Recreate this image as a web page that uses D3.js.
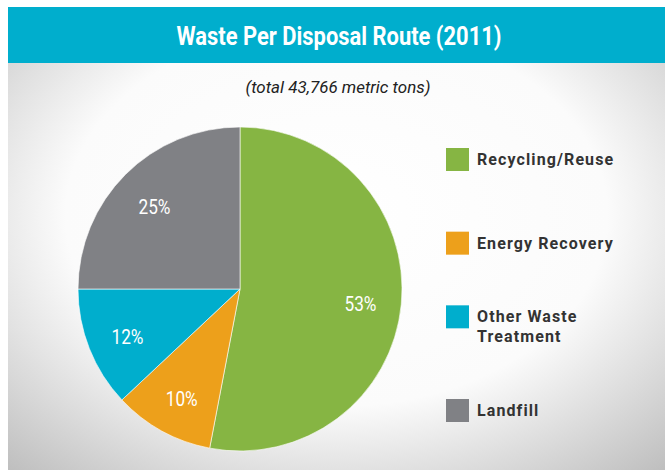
<!DOCTYPE html>
<html><head><meta charset="utf-8">
<script src="https://cdn.jsdelivr.net/npm/d3@7"></script>
<style>html,body{margin:0;padding:0;background:#fff;}svg{display:block;}</style>
</head><body>
<script>
const categories = ["Recycling/Reuse", "Energy Recovery", "Other Waste Treatment", "Landfill"];
const legendLines = [["Recycling/Reuse"], ["Energy Recovery"], ["Other Waste", "Treatment"], ["Landfill"]];
const values = [53, 10, 12, 25];
const colors = ["#86b543", "#eda01b", "#00aecd", "#808185"];
const title = "Waste Per Disposal Route (2011)";
const subtitle = "(total 43,766 metric tons)";

const W = 665, H = 470;
const svg = d3.select("body").append("svg").attr("width", W).attr("height", H);
const defs = svg.append("defs");
const grad = defs.append("radialGradient").attr("id", "bg")
  .attr("cx", "0.5").attr("cy", "0.45").attr("r", "0.75")
  .attr("gradientUnits", "objectBoundingBox");
grad.append("stop").attr("offset", "0").attr("stop-color", "#ffffff");
grad.append("stop").attr("offset", "0.55").attr("stop-color", "#fbfbfb");
grad.append("stop").attr("offset", "1").attr("stop-color", "#bdbdbd");

svg.append("rect").attr("x", 8).attr("y", 7).attr("width", W - 8).attr("height", H - 7).attr("fill", "url(#bg)");
svg.append("rect").attr("x", 8).attr("y", 7).attr("width", W - 8).attr("height", 56).attr("fill", "#00aecd");

function fitWidth(sel, w) {
  sel.attr("textLength", w).attr("lengthAdjust", "spacingAndGlyphs");
}
function fitText(sel, factor) {
  sel.each(function () {
    const w = this.getComputedTextLength();
    d3.select(this).attr("textLength", w * factor).attr("lengthAdjust", "spacingAndGlyphs");
  });
}

svg.append("text").attr("x", 339).attr("y", 45).attr("text-anchor", "middle")
  .attr("font-family", "Roboto, sans-serif").attr("font-weight", "bold").attr("font-size", 25)
  .attr("fill", "#fff").text(title).call(s => fitWidth(s, 325));

svg.append("text").attr("x", 338).attr("y", 93).attr("text-anchor", "middle")
  .attr("font-family", "Roboto, sans-serif").attr("font-style", "italic").attr("font-size", 16)
  .attr("fill", "#222").text(subtitle).call(s => fitWidth(s, 185));

const cx = 240, cy = 289, r = 162;
const pie = d3.pie().sort(null).value(d => d);
const arcs = pie(values);
const arc = d3.arc().innerRadius(0).outerRadius(r);
const labelArc = d3.arc().innerRadius(121).outerRadius(121);
const g = svg.append("g").attr("transform", `translate(${cx},${cy})`);
g.selectAll("path").data(arcs).join("path")
  .attr("d", arc).attr("fill", (d, i) => colors[i])
  .attr("stroke", "#fff").attr("stroke-width", 0.6);
g.selectAll("text.lbl").data(arcs).join("text").attr("class", "lbl")
  .attr("transform", d => `translate(${labelArc.centroid(d)})`)
  .attr("text-anchor", "middle").attr("dy", "0.5em")
  .attr("font-family", "Roboto, sans-serif").attr("font-size", 21)
  .attr("fill", "#fff").text(d => d.value + "%").call(s => fitText(s, 0.82));

const ly = d3.scalePoint().domain(categories).range([159.5, 410.5]);
const leg = svg.append("g");
categories.forEach((c, i) => {
  const lines = legendLines[i];
  const first = ly(c) - (lines.length - 1) * 10;
  leg.append("rect").attr("x", 446).attr("y", first - 11.5).attr("width", 23).attr("height", 23).attr("fill", colors[i]);
  const t = leg.append("text").attr("x", 477).attr("font-family", "Roboto, sans-serif")
    .attr("font-weight", "bold").attr("font-size", 16).attr("fill", "#333").attr("letter-spacing", 1.1);
  lines.forEach((ln, j) => {
    t.append("tspan").attr("x", 477).attr("y", first + 5.5 + j * 20).text(ln);
  });
});
</script>
</body></html>
